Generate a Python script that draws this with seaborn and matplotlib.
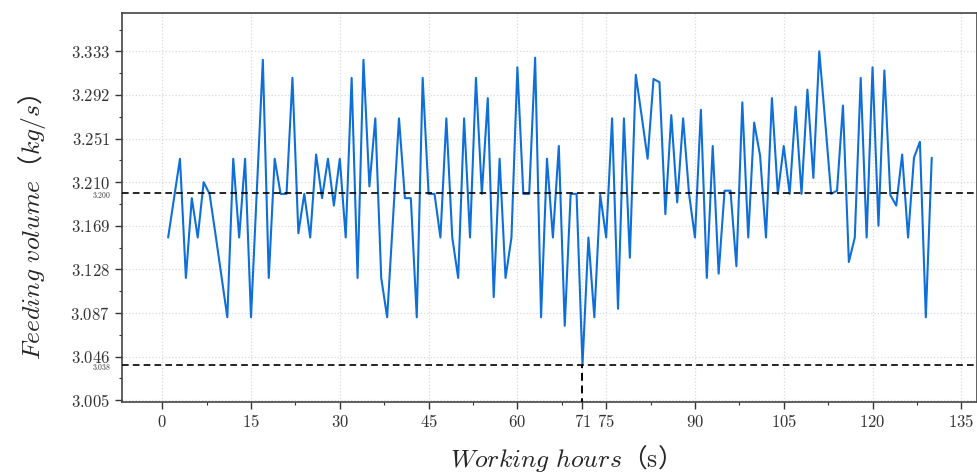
import numpy as np
import pandas as pd
import matplotlib
matplotlib.use('Agg')
import matplotlib.pyplot as plt
import matplotlib.ticker as mticker
import seaborn as sns

# 数据
hours = list(range(1, 131))
feed = [
    3.158, 3.195, 3.232, 3.120, 3.195, 3.158, 3.210, 3.199, 3.161, 3.122,
    3.083, 3.232, 3.158, 3.232, 3.083, 3.204, 3.325, 3.120, 3.232, 3.199,
    3.199, 3.308, 3.162, 3.199, 3.158, 3.236, 3.195, 3.232, 3.188, 3.232,
    3.158, 3.308, 3.120, 3.325, 3.206, 3.270, 3.120, 3.083, 3.176, 3.270,
    3.195, 3.195, 3.083, 3.308, 3.199, 3.199, 3.158, 3.270, 3.158, 3.120,
    3.270, 3.158, 3.308, 3.199, 3.289, 3.102, 3.232, 3.120, 3.158, 3.318,
    3.199, 3.199, 3.327, 3.083, 3.232, 3.158, 3.244, 3.075, 3.199, 3.199,
    3.038, 3.158, 3.083, 3.198, 3.158, 3.270, 3.091, 3.270, 3.139, 3.311,
    3.272, 3.232, 3.307, 3.304, 3.180, 3.273, 3.191, 3.270, 3.199, 3.158,
    3.278, 3.120, 3.244, 3.124, 3.202, 3.202, 3.131, 3.285, 3.158, 3.266,
    3.235, 3.158, 3.289, 3.199, 3.244, 3.199, 3.281, 3.199, 3.297, 3.214,
    3.333, 3.267, 3.199, 3.202, 3.282, 3.135, 3.158, 3.308, 3.158, 3.318,
    3.169, 3.315, 3.198, 3.188, 3.236, 3.158, 3.233, 3.248, 3.083, 3.233,
]
mean_line = 3.200
min_line = 3.038
min_hour = 71
xticks = [0, 15, 30, 45, 60, 75, 90, 105, 120, 135]
yticks = [3.005, 3.046, 3.087, 3.128, 3.169, 3.210, 3.251, 3.292, 3.333]

df = pd.DataFrame({'hours': hours, 'feed': feed})

sns.set_style('ticks')
plt.rcParams['font.family'] = ['DejaVu Serif', 'Noto Sans CJK SC']
plt.rcParams['mathtext.fontset'] = 'cm'

fig = plt.figure(figsize=(9.78, 4.75), dpi=100)
ax = fig.add_axes([0.1247, 0.1537, 0.874, 0.8189])

sns.lineplot(x='hours', y='feed', data=df, ax=ax, color='#0f6fd8', linewidth=1.5)

# 参考线
ax.axhline(mean_line, color='black', ls='--', lw=1.2, dashes=(4, 2.5), zorder=3)
ax.axhline(min_line, color='black', ls='--', lw=1.2, dashes=(4, 2.5), zorder=3)
ax.plot([min_hour, min_hour], [3.0, min_line], color='black', ls='--', lw=1.4,
        dashes=(4, 2.5), zorder=3)

ax.set_xlim(-6.8, 137.6)
ax.set_ylim(3.0034, 3.369)

ax.xaxis.set_major_locator(mticker.FixedLocator(xticks + [min_hour]))
ax.xaxis.set_minor_locator(mticker.FixedLocator([v + 7.5 for v in xticks]))
ax.yaxis.set_major_locator(mticker.FixedLocator(yticks))
ax.yaxis.set_minor_locator(mticker.FixedLocator([v + 0.0205 for v in yticks]))
ax.xaxis.set_major_formatter(mticker.FuncFormatter(lambda v, p: f'${int(v)}$'))
ax.yaxis.set_major_formatter(mticker.FuncFormatter(lambda v, p: f'${v:.3f}$'))

ax.tick_params(axis='both', which='major', direction='out', length=5, width=1,
               labelsize=12, colors='#333333')
ax.tick_params(axis='both', which='minor', direction='out', length=2.5, width=0.8,
               colors='#333333')
ax.grid(True, which='major', color='#dadada', ls=':', lw=0.9)
for s in ax.spines.values():
    s.set_color('#444444')
    s.set_linewidth(1.2)

trans = ax.get_yaxis_transform()
for val in (mean_line, min_line):
    ax.text(-0.013, val - 0.002, f'${val:.3f}$', transform=trans, ha='right',
            va='center', fontsize=5.5, color='#333333')

# 轴标签：括号为全角字符，非公式部分用 CJK 字体
ax.set_xlabel(r'$Working\ hours$（$\mathrm{s}$）', fontsize=18.5,
              family='Noto Sans CJK SC')
ax.set_ylabel(r'$Feeding\ volume$（$kg/s$）', fontsize=18.5,
              family='Noto Sans CJK SC')
ax.xaxis.set_label_coords(0.511, -0.105)
ax.yaxis.set_label_coords(-0.087, 0.45)

fig.savefig('out.png', dpi=100)
